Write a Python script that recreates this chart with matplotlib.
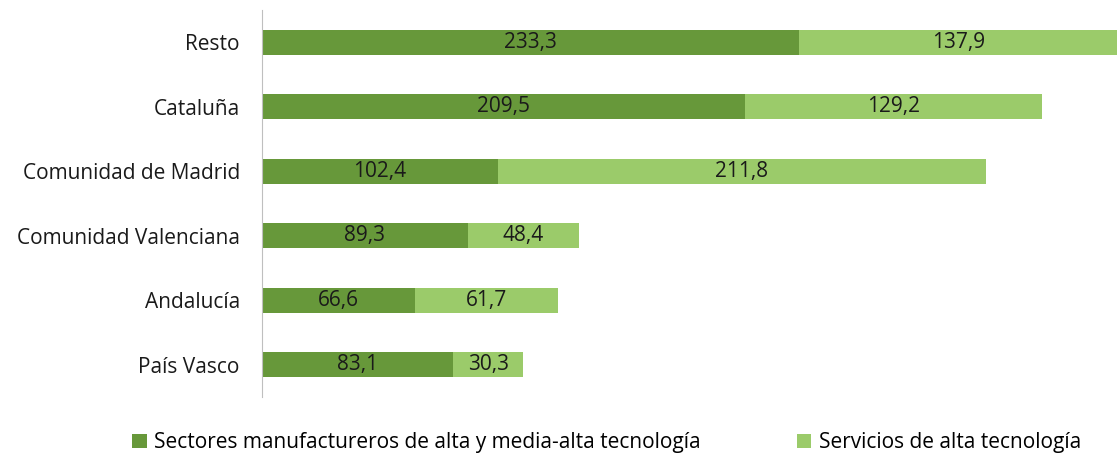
import matplotlib.pyplot as plt
import numpy as np

plt.rcParams['font.family'] = ['Open Sans', 'DejaVu Sans']

regiones = ["País Vasco", "Andalucía", "Comunidad Valenciana",
            "Comunidad de Madrid", "Cataluña", "Resto"]
manufactureros = [83.1, 66.6, 89.3, 102.4, 209.5, 233.3]
servicios = [30.3, 61.7, 48.4, 211.8, 129.2, 137.9]

c_manu = "#67983A"
c_serv = "#9BCB6A"

fig = plt.figure(figsize=(11.17, 4.55), dpi=100)
ax = fig.add_axes([0.2346, 0.1275, 0.7654, 0.8505])

y = np.arange(len(regiones))
b1 = ax.barh(y, manufactureros, height=0.39, color=c_manu,
             label="Sectores manufactureros de alta y media-alta tecnología")
b2 = ax.barh(y, servicios, left=manufactureros, height=0.39, color=c_serv,
             label="Servicios de alta tecnología")

for bars, vals in ((b1, manufactureros), (b2, servicios)):
    ax.bar_label(bars, labels=[f"{v:.1f}".replace(".", ",") for v in vals],
                 label_type="center", fontsize=15, color="#1a1a1a")

ax.set_ylim(-0.5, 5.5)
ax.set_xlim(0, 371.2)
ax.set_yticks(y)
ax.set_yticklabels(regiones, fontsize=15, color="#1a1a1a")
ax.tick_params(axis="y", length=0, pad=16)
ax.set_xticks([])
for s in ["top", "right", "bottom"]:
    ax.spines[s].set_visible(False)
ax.spines["left"].set_color("#bfbfbf")

fig.legend(handles=[b1, b2], loc="center", bbox_to_anchor=(0.543, 0.027),
           ncol=2, frameon=False, fontsize=15, handlelength=0.7,
           handleheight=0.7, handletextpad=0.35, columnspacing=4.6)

fig.savefig("out.png", dpi=100)
